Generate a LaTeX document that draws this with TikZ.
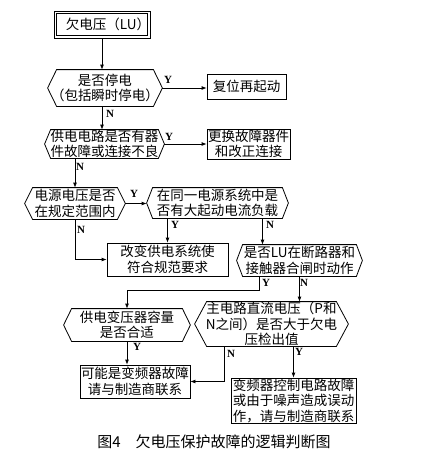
\documentclass[tikz,border=0pt]{standalone}
\usepackage{fontspec}
\setmainfont{Noto Sans CJK SC}
\newfontfamily\ynfont{Liberation Serif}
\usetikzlibrary{positioning, arrows.meta, calc}

\begin{document}
\begin{tikzpicture}[x=1pt, y=-1pt, line width=0.8pt,
    font=\fontsize{13.5}{15.5}\selectfont,
    box/.style={draw, align=center, inner sep=0pt},
    dec/.style={align=center, inner sep=0pt},
    lbl/.style={font=\ynfont\bfseries\fontsize{11}{11}\selectfont, inner sep=0pt},
    arr/.style={-{Latex[length=5pt, width=4pt]}}]
  \useasboundingbox (0,0) rectangle (431,464);
  % 起点
  \node[box, minimum width=90pt, minimum height=27pt] (start) at (102,24.5)
    {\hspace{12pt}欠电压（LU）};
  \draw ([shift={(3,3)}]start.north west) rectangle ([shift={(-3,-3)}]start.south east);
  % 判断框
  \node[dec, minimum width=114pt, minimum height=36pt] (q1) at (105,88)
    {是否停电\\（包括瞬时停电）};
  \node[dec, minimum width=119pt, minimum height=28pt] (q2) at (104.5,144)
    {供电电路是否有器\\件故障或连接不良};
  \node[dec, minimum width=100pt, minimum height=31pt] (q3) at (75,203.5)
    {电源电压是否\\在规定范围内};
  \node[dec, minimum width=141pt, minimum height=30pt] (q4) at (217.5,203)
    {在同一电源系统中是\\否有大起动电流负载};
  \node[dec, minimum width=125pt, minimum height=31pt] (q5) at (299.5,260.5)
    {是否LU在断路器和\\接触器合闸时动作};
  \node[dec, minimum width=126pt, minimum height=32pt] (q6) at (127,325)
    {供电变压器容量\\是否合适};
  \node[dec, minimum width=153pt, minimum height=44pt] (q7) at (271.5,324)
    {主电路直流电压（P和\\N之间）是否大于欠电\\压检出值};
  \foreach \n/\d in {q1/9, q2/6, q3/8, q4/6, q5/6, q6/8, q7/12}
    \draw (\n.west) -- ([xshift=\d pt]\n.north west) -- ([xshift=-\d pt]\n.north east)
      -- (\n.east) -- ([xshift=-\d pt]\n.south east) -- ([xshift=\d pt]\n.south west) -- cycle;
  % 处理框
  \node[box, minimum width=79pt, minimum height=25pt] (r1) at (246.5,86.5) {复位再起动};
  \node[box, minimum width=83pt, minimum height=30pt] (r2) at (248.5,144)
    {更换故障器件\\和改正连接};
  \node[box, minimum width=121pt, minimum height=33pt] (r3) at (167.5,259.5)
    {改变供电系统使\\符合规范要求};
  \node[box, minimum width=110pt, minimum height=33pt] (r4) at (135,381.5)
    {可能是变频器故障\\请与制造商联系};
  \node[box, minimum width=125pt, minimum height=45pt] (r5) at (293.5,400.5)
    {变频器控制电路故障\\或由于噪声造成误动\\作，请与制造商联系};
  % 连线
  \draw[arr] (start.south) -- (start.south |- q1.north);
  \draw[arr] (q1.east) -- (q1.east -| r1.west);
  \draw[arr] (q1.south -| start.south) -- (start.south |- q2.north);
  \draw[arr] (q2.east) -- (q2.east -| r2.west);
  \draw[arr] (q2.south -| q3.north) -- (q3.north);
  \draw[arr] (q3.east) -- (q3.east -| q4.west);
  \draw[arr] (q4.south -| r3.north) -- (r3.north);
  \draw[arr] (q3.south) -- (q3.south |- r3.west) -- (r3.west);
  \draw[arr] ([xshift=45pt]q4.south) -- ([xshift=45pt]q4.south |- q5.north);
  \draw[arr] ([xshift=-40pt]q5.south) -- ++(0,14) -| (q6.north);
  \draw[arr] (q5.south) -- (q5.south |- q7.north);
  \draw[arr] (q6.south) -- (q6.south |- r4.north);
  \draw[arr] ([xshift=-47pt]q7.south) |- (r4.east);
  \draw[arr] (q7.south -| r5.north) -- (r5.north);
  % Y / N
  \node[lbl] (y1) at (168,80) {Y};
  \node[lbl] (n1) at (110,114) {N};
  \node[lbl] (y2) at (169,137) {Y};
  \node[lbl] (n2) at (80,167) {N};
  \node[lbl] (y3) at (134,194) {Y};
  \node[lbl] (n3) at (81,230) {N};
  \node[lbl] (y4) at (175,225) {Y};
  \node[lbl] (n4) at (270,225) {N};
  \node[lbl] (y5) at (266,283) {Y};
  \node[lbl] (n5) at (304,283) {N};
  \node[lbl] (y6) at (137,347) {Y};
  \node[lbl] (n6) at (231,354) {N};
  \node[lbl] (y7) at (299,352) {Y};
  % 图题
  \node[font=\fontsize{15}{17}\selectfont] (cap) at (214,442)
    {图4\quad 欠电压保护故障的逻辑判断图};
\end{tikzpicture}
\end{document}
